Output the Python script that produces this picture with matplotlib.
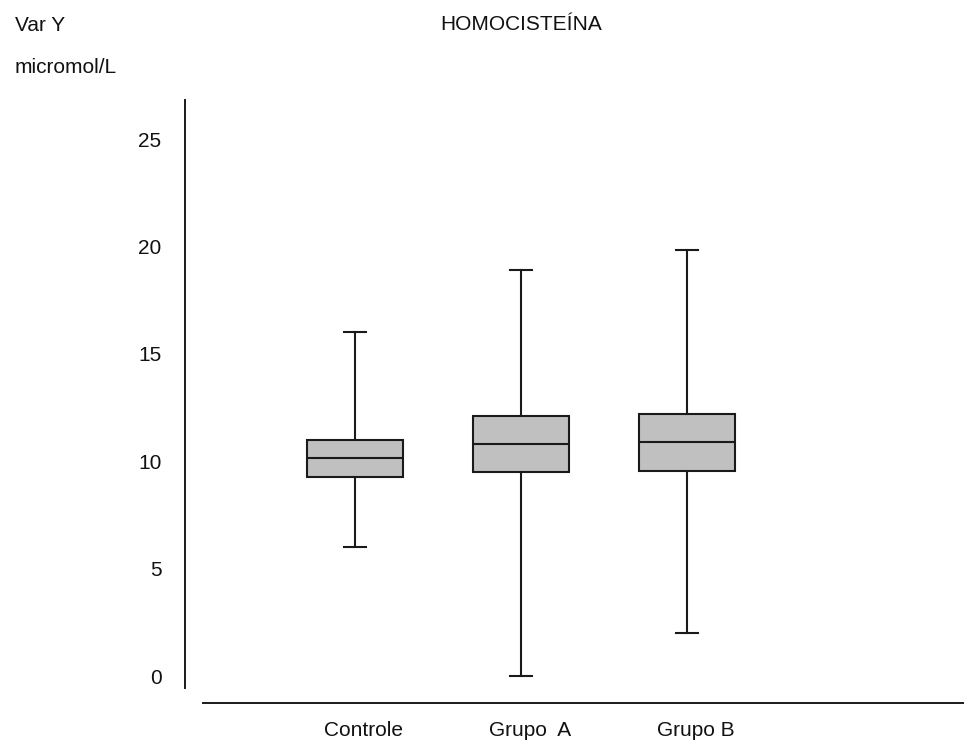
import matplotlib
matplotlib.use("Agg")
import matplotlib.pyplot as plt
import matplotlib.transforms as mtransforms

# group summaries (micromol/L)
groups = ["Controle", "Grupo  A", "Grupo B"]
whislo = [6.0, 0.0, 2.0]
q1 = [9.28, 9.51, 9.56]
med = [10.13, 10.80, 10.88]
q3 = [10.99, 12.12, 12.18]
whishi = [16.0, 18.9, 19.83]
yticks = [0, 5, 10, 15, 20, 25]

plt.rcParams['font.family'] = ['Liberation Sans', 'DejaVu Sans']

W, H = 977, 745
fig = plt.figure(figsize=(W / 100, H / 100), dpi=100)
# axes box in pixels: left 185, right 963, top 100, bottom 703
ax = fig.add_axes([185 / W, 1 - 703 / H, (963 - 185) / W, (703 - 100) / H])

stats = []
for i in range(len(groups)):
    stats.append(dict(label=groups[i], whislo=whislo[i], q1=q1[i], med=med[i],
                      q3=q3[i], whishi=whishi[i], fliers=[]))

lc = "#1a1a1a"
ax.bxp(stats, positions=[1, 2, 3], widths=0.58, patch_artist=True,
       showfliers=False, capwidths=0.13,
       boxprops=dict(facecolor="#c0c0c0", edgecolor=lc, linewidth=1.5),
       medianprops=dict(color=lc, linewidth=1.5),
       whiskerprops=dict(color=lc, linewidth=1.5),
       capprops=dict(color=lc, linewidth=1.5))

ax.set_xlim(-0.024, 4.663)
ax.set_ylim(-1.257, 26.82)
ax.set_yticks(yticks)
ax.set_yticklabels([str(t) for t in yticks])
ax.set_xticks([1, 2, 3])
ax.set_xticklabels(groups)
ax.tick_params(axis="both", length=0, labelsize=15, colors="#111111")
ax.tick_params(axis="y", pad=17)
ax.tick_params(axis="x", pad=13)

# category labels sit a little right of the box centres in the original
shift = mtransforms.ScaledTranslation(9 / 100, 0, fig.dpi_scale_trans)
for lab in ax.get_xticklabels():
    lab.set_transform(lab.get_transform() + shift)

for s in ["top", "right"]:
    ax.spines[s].set_visible(False)
ax.spines["left"].set_bounds(-0.559, 26.82)
ax.spines["bottom"].set_bounds(0.084, 4.663)
for s in ["left", "bottom"]:
    ax.spines[s].set_linewidth(1.4)
    ax.spines[s].set_color(lc)

fig.text(15 / W, 1 - 31 / H, "Var Y", fontsize=15, va="baseline", ha="left", color="#111111")
fig.text(15 / W, 1 - 73 / H, "micromol/L", fontsize=15, va="baseline", ha="left", color="#111111")
fig.text(521 / W, 1 - 30 / H, "HOMOCISTEÍNA", fontsize=15, va="baseline", ha="center", color="#111111")

fig.savefig("out.png", dpi=100)
